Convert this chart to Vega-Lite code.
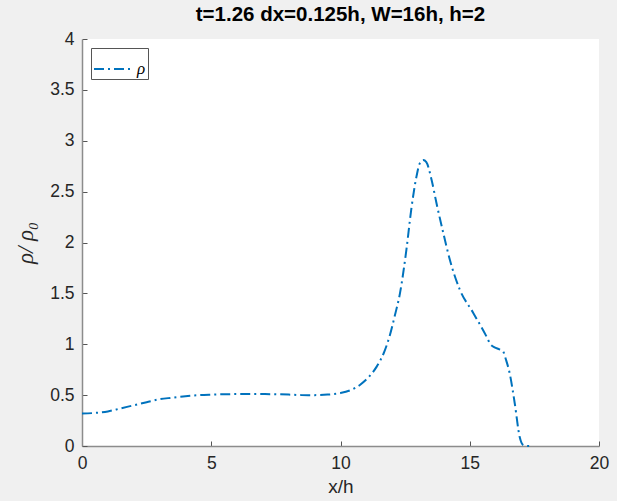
{
  "$schema": "https://vega.github.io/schema/vega-lite/v6.json",
  "width": 517,
  "height": 407,
  "autosize": {"type": "none"},
  "padding": {"left": 82, "top": 39, "right": 18, "bottom": 55},
  "background": "#F0F0F0",
  "title": {
    "text": "t=1.26 dx=0.125h, W=16h, h=2",
    "font": "Liberation Sans",
    "fontWeight": "bold",
    "fontSize": 20.5,
    "color": "#000000",
    "anchor": "middle",
    "offset": 5
  },
  "data": {
    "values": [
      {"x": 0, "y": 0.32, "s": "ρ"},
      {"x": 0.5, "y": 0.325, "s": "ρ"},
      {"x": 1, "y": 0.34, "s": "ρ"},
      {"x": 1.5, "y": 0.37, "s": "ρ"},
      {"x": 2, "y": 0.40, "s": "ρ"},
      {"x": 2.5, "y": 0.43, "s": "ρ"},
      {"x": 3, "y": 0.46, "s": "ρ"},
      {"x": 3.5, "y": 0.475, "s": "ρ"},
      {"x": 4, "y": 0.49, "s": "ρ"},
      {"x": 4.5, "y": 0.50, "s": "ρ"},
      {"x": 5, "y": 0.505, "s": "ρ"},
      {"x": 6, "y": 0.51, "s": "ρ"},
      {"x": 7, "y": 0.51, "s": "ρ"},
      {"x": 8, "y": 0.505, "s": "ρ"},
      {"x": 8.5, "y": 0.50, "s": "ρ"},
      {"x": 9, "y": 0.50, "s": "ρ"},
      {"x": 9.5, "y": 0.505, "s": "ρ"},
      {"x": 10, "y": 0.52, "s": "ρ"},
      {"x": 10.4, "y": 0.55, "s": "ρ"},
      {"x": 10.75, "y": 0.60, "s": "ρ"},
      {"x": 11.1, "y": 0.68, "s": "ρ"},
      {"x": 11.4, "y": 0.78, "s": "ρ"},
      {"x": 11.7, "y": 0.93, "s": "ρ"},
      {"x": 11.9, "y": 1.08, "s": "ρ"},
      {"x": 12.1, "y": 1.28, "s": "ρ"},
      {"x": 12.3, "y": 1.50, "s": "ρ"},
      {"x": 12.55, "y": 1.93, "s": "ρ"},
      {"x": 12.74, "y": 2.33, "s": "ρ"},
      {"x": 12.94, "y": 2.65, "s": "ρ"},
      {"x": 13.07, "y": 2.78, "s": "ρ"},
      {"x": 13.2, "y": 2.81, "s": "ρ"},
      {"x": 13.32, "y": 2.79, "s": "ρ"},
      {"x": 13.52, "y": 2.62, "s": "ρ"},
      {"x": 13.71, "y": 2.39, "s": "ρ"},
      {"x": 13.97, "y": 2.10, "s": "ρ"},
      {"x": 14.23, "y": 1.83, "s": "ρ"},
      {"x": 14.61, "y": 1.54, "s": "ρ"},
      {"x": 15.13, "y": 1.31, "s": "ρ"},
      {"x": 15.64, "y": 1.08, "s": "ρ"},
      {"x": 15.8, "y": 1.0, "s": "ρ"},
      {"x": 15.96, "y": 0.97, "s": "ρ"},
      {"x": 16.15, "y": 0.95, "s": "ρ"},
      {"x": 16.29, "y": 0.93, "s": "ρ"},
      {"x": 16.4, "y": 0.85, "s": "ρ"},
      {"x": 16.54, "y": 0.72, "s": "ρ"},
      {"x": 16.74, "y": 0.42, "s": "ρ"},
      {"x": 16.93, "y": 0.09, "s": "ρ"},
      {"x": 17.06, "y": 0.01, "s": "ρ"},
      {"x": 17.2, "y": 0.0, "s": "ρ"},
      {"x": 17.3, "y": 0.0, "s": "ρ"}
    ]
  },
  "mark": {
    "type": "line",
    "interpolate": "monotone",
    "strokeWidth": 2,
    "strokeDash": [10, 4, 2, 4]
  },
  "encoding": {
    "x": {
      "field": "x",
      "type": "quantitative",
      "scale": {"domain": [0, 20], "nice": false, "zero": false},
      "axis": {
        "title": "x/h",
        "values": [0, 5, 10, 15, 20],
        "grid": false,
        "labelFlush": false,
        "labelOverlap": false,
        "tickSize": -5,
        "labelPadding": 13,
        "titlePadding": 6,
        "titleFontSize": 19
      }
    },
    "y": {
      "field": "y",
      "type": "quantitative",
      "scale": {"domain": [0, 4], "nice": false},
      "axis": {
        "title": "ρ/ ρ₀",
        "values": [0, 0.5, 1, 1.5, 2, 2.5, 3, 3.5, 4],
        "format": "~g",
        "grid": false,
        "labelFlush": false,
        "labelOverlap": false,
        "tickSize": -5,
        "labelPadding": 13,
        "titlePadding": 12,
        "titleFont": "Liberation Serif",
        "titleFontStyle": "italic",
        "titleFontWeight": "normal",
        "titleFontSize": 23
      }
    },
    "color": {
      "field": "s",
      "type": "nominal",
      "scale": {"range": ["#0072BD"]},
      "legend": {
        "title": null,
        "orient": "none",
        "legendX": 9,
        "legendY": 9,
        "symbolType": "stroke",
        "symbolSize": 1296,
        "symbolStrokeWidth": 2,
        "symbolDash": [10, 4, 2, 4],
        "labelFont": "Liberation Serif",
        "labelFontStyle": "italic",
        "labelFontSize": 17,
        "labelColor": "#000000",
        "labelOffset": 6,
        "strokeColor": "#555555",
        "fillColor": "#FFFFFF",
        "padding": 2
      }
    }
  },
  "config": {
    "view": {"fill": "#FFFFFF", "stroke": null},
    "axis": {
      "domainColor": "#8C8C8C",
      "domainWidth": 1.5,
      "tickColor": "#555555",
      "labelColor": "#262626",
      "titleColor": "#262626",
      "labelFont": "Liberation Sans",
      "titleFont": "Liberation Sans",
      "labelFontSize": 17.5,
      "titleFontSize": 19,
      "titleFontWeight": "normal"
    }
  }
}
